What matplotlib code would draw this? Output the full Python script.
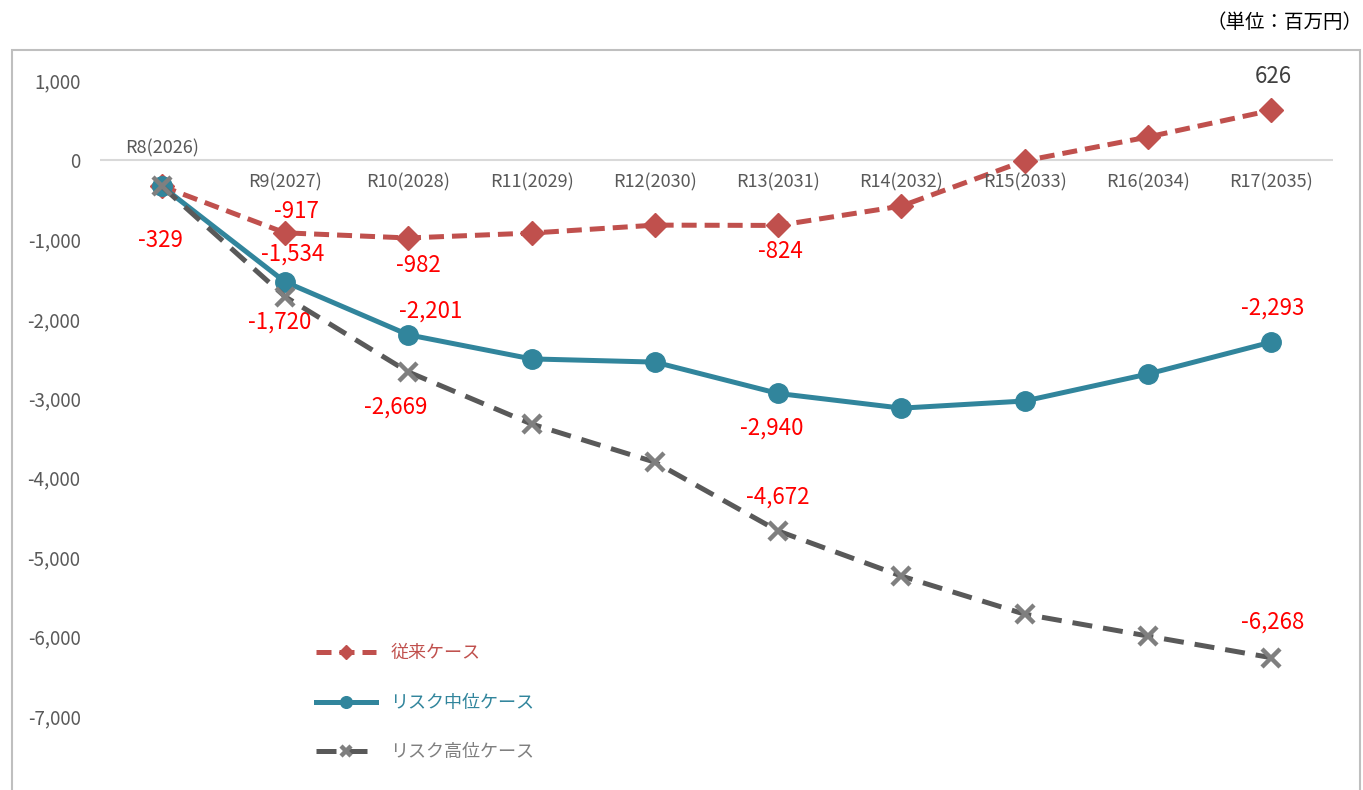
import matplotlib
matplotlib.use("Agg")
import matplotlib.pyplot as plt
from matplotlib.patches import Rectangle

# categories and series (unit: million yen)
categories = ["R8(2026)", "R9(2027)", "R10(2028)", "R11(2029)", "R12(2030)",
              "R13(2031)", "R14(2032)", "R15(2033)", "R16(2034)", "R17(2035)"]
conventional = [-329, -917, -982, -920, -820, -824, -580, -10, 290, 626]
risk_mid = [-329, -1534, -2201, -2505, -2545, -2940, -3125, -3035, -2695, -2293]
risk_high = [-329, -1720, -2669, -3325, -3805, -4672, -5240, -5720, -5995, -6268]
series_names = ["従来ケース", "リスク中位ケース", "リスク高位ケース"]
y_ticks = [1000, 0, -1000, -2000, -3000, -4000, -5000, -6000, -7000]

# which points get a value label: (series index, category index, dx px, dy px)
labels = [
    (0, 0, -1, -54), (0, 1, 11, 21), (0, 2, 10, -28), (0, 5, 2, -26), (0, 9, 2, 34),
    (1, 1, 8, 28), (1, 2, 22, 24), (1, 5, -6, -35), (1, 9, 1, 34),
    (2, 1, -5, -26), (2, 2, -13, -35), (2, 5, 0, 34), (2, 9, 1, 36),
]

plt.rcParams["font.family"] = ["Noto Sans CJK JP", "DejaVu Sans"]

fig = plt.figure(figsize=(13.63, 7.90), dpi=100)
ax = fig.add_axes([100 / 1363, 0, 1233 / 1363, 1 - 60.75 / 790])

# outer frame of the chart area
fig.patches.append(Rectangle((12 / 1363, -0.01), 1348 / 1363, 1 - 50 / 790 + 0.01,
                             transform=fig.transFigure, fill=False,
                             edgecolor="#bfbfbf", linewidth=1.5))

x = list(range(len(categories)))
all_series = [conventional, risk_mid, risk_high]

ax.plot(x, conventional, color="#C0504D", linewidth=3.6, linestyle=(0, (3, 1.6)),
        marker="D", markersize=12, markerfacecolor="#C0504D", markeredgecolor="#C0504D",
        label=series_names[0], zorder=3)
ax.plot(x, risk_mid, color="#31859C", linewidth=3.6, linestyle="-",
        marker="o", markersize=14, markerfacecolor="#31859C", markeredgecolor="#31859C",
        label=series_names[1], zorder=4)
ax.plot(x, risk_high, color="#595959", linewidth=3.6, linestyle=(0, (4, 2.2)),
        marker="x", markersize=13, markeredgewidth=3.2, markeredgecolor="#7f7f7f",
        label=series_names[2], zorder=5)

ax.axhline(0, color="#d9d9d9", linewidth=1.5, zorder=1)

ax.set_xlim(-0.5, len(categories) - 0.5)
ax.set_ylim(-7934, 1250)
ax.set_xticks([])
ax.set_yticks(y_ticks)
ax.set_yticklabels([f"{v:,}" for v in y_ticks], fontsize=13.5, color="#595959")
ax.tick_params(axis="y", length=0, pad=14)
for s in ax.spines.values():
    s.set_visible(False)

# category labels sit next to the zero line (first one above it)
for i, c in enumerate(categories):
    dy = 12 if i == 0 else -22
    ax.annotate(c, (i, 0), xytext=(0, dy), textcoords="offset pixels",
                ha="center", va="center", fontsize=13, color="#595959")

for si, ci, dx, dy in labels:
    v = all_series[si][ci]
    col = "#404040" if v > 0 else "#FF0000"
    ax.annotate(f"{v:,}", (ci, v), xytext=(dx, dy), textcoords="offset pixels",
                ha="center", va="center", fontsize=16, color=col)

leg = ax.legend(loc="upper left", bbox_to_anchor=(200 / 1233, (790 - 628) / 729.25),
                frameon=False, fontsize=13, handlelength=3.3, labelspacing=1.75,
                handletextpad=0.8, markerscale=0.6)
for t, c in zip(leg.get_texts(), ["#C0504D", "#31859C", "#7f7f7f"]):
    t.set_color(c)

fig.text(1362 / 1363, 1 - 22 / 790, "（単位：百万円）", ha="right", va="center",
         fontsize=14, color="#000000")

fig.savefig("out.png", dpi=100)
